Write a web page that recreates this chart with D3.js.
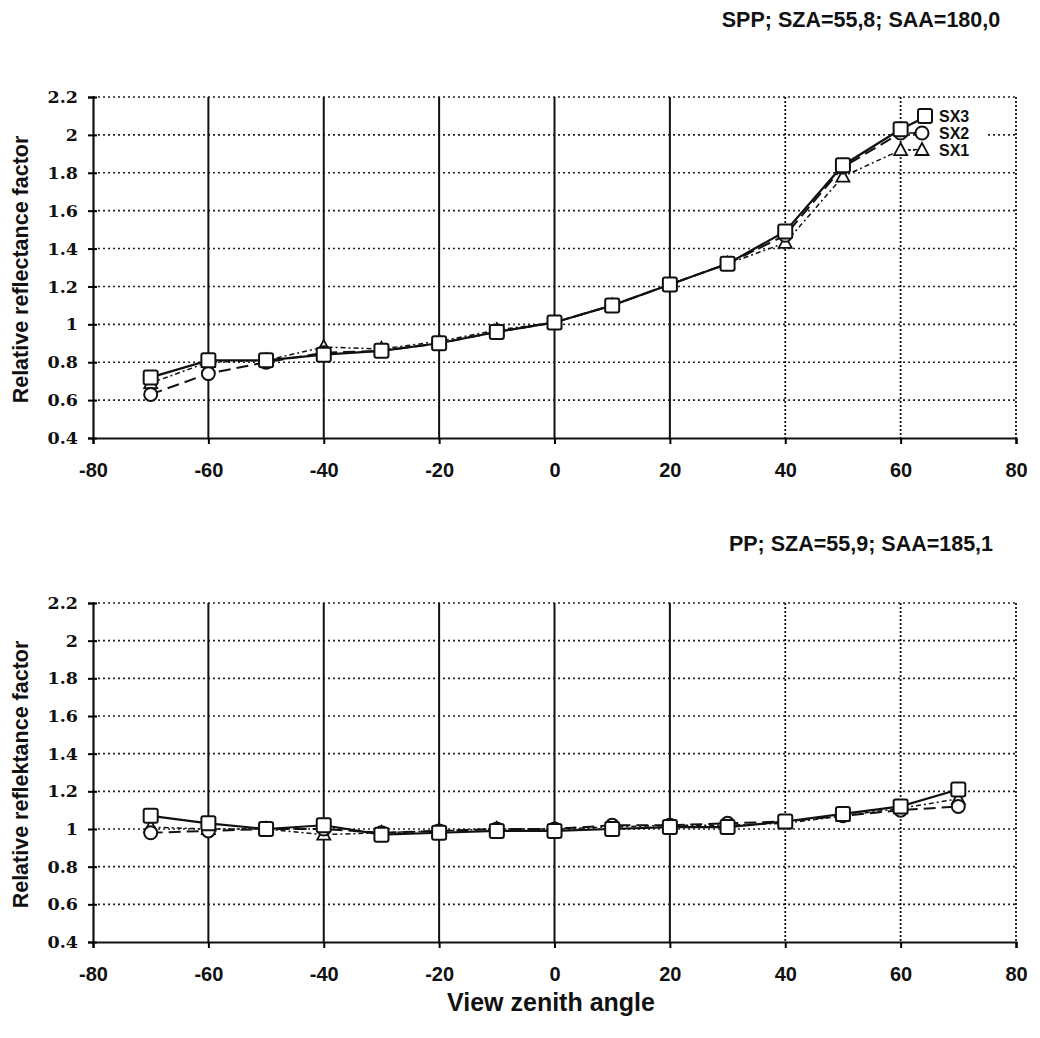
<!DOCTYPE html>
<html>
<head>
<meta charset="utf-8">
<script src="https://cdn.jsdelivr.net/npm/d3@7"></script>
<style>
  body { margin: 0; background: #fff; }
  text { font-family: "Liberation Sans", Arial, sans-serif; font-weight: bold; fill: #111; }
  .ytick text { font-family: "DejaVu Serif", serif !important; font-size: 17.5px; }
</style>
</head>
<body>
<div id="chart"></div>
<script>
// view zenith angles
let angles = [-70, -60, -50, -40, -30, -20, -10, 0, 10, 20, 30, 40, 50, 60, 70];

// SPP panel (point at 70 sits under the legend)
let sppSX3 = [0.72, 0.81, 0.81, 0.84, 0.86, 0.90, 0.96, 1.01, 1.10, 1.21, 1.32, 1.49, 1.84, 2.03, 2.18];
let sppSX2 = [0.63, 0.74, 0.80, 0.85, 0.86, 0.90, 0.96, 1.01, 1.10, 1.21, 1.32, 1.47, 1.83, 2.01, 2.01];
let sppSX1 = [0.69, 0.80, 0.81, 0.88, 0.87, 0.91, 0.97, 1.01, 1.10, 1.21, 1.32, 1.43, 1.78, 1.92, 1.93];

// PP panel
let ppSX3 = [1.07, 1.03, 1.00, 1.02, 0.97, 0.98, 0.99, 0.99, 1.00, 1.01, 1.01, 1.04, 1.08, 1.12, 1.21];
let ppSX2 = [0.98, 0.99, 1.00, 1.00, 0.98, 0.99, 1.00, 1.00, 1.02, 1.02, 1.03, 1.04, 1.07, 1.10, 1.12];
let ppSX1 = [1.01, 1.00, 1.00, 0.97, 0.98, 0.99, 1.00, 1.00, 1.01, 1.02, 1.02, 1.03, 1.07, 1.11, 1.16];

let xTicks = [-80, -60, -40, -20, 0, 20, 40, 60, 80];
let yTicks = [0.4, 0.6, 0.8, 1, 1.2, 1.4, 1.6, 1.8, 2, 2.2];
let seriesNames = ["SX3", "SX2", "SX1"];

let svgWidth = 1040;
let svgHeight = 1038;

let svg = d3.select("#chart")
    .append("svg")
    .attr("width", svgWidth)
    .attr("height", svgHeight);

// line style and marker per series
let styles = {
    SX3: { dash: null, width: 2.2, marker: "square" },
    SX2: { dash: "12,6", width: 2, marker: "circle" },
    SX1: { dash: "5,3,2,3", width: 1.5, marker: "triangle" }
};

function drawMarker(g, type, x, y) {
    if (type === "square") {
        g.append("rect")
            .attr("x", x - 7).attr("y", y - 7)
            .attr("width", 14).attr("height", 14)
            .attr("rx", 2)
            .attr("fill", "#fff").attr("stroke", "#111").attr("stroke-width", 2);
    } else if (type === "circle") {
        g.append("circle")
            .attr("cx", x).attr("cy", y).attr("r", 6.5)
            .attr("fill", "#fff").attr("stroke", "#111").attr("stroke-width", 2);
    } else {
        g.append("path")
            .attr("d", `M${x},${y - 7}L${x + 6.5},${y + 5}L${x - 6.5},${y + 5}Z`)
            .attr("fill", "#fff").attr("stroke", "#111").attr("stroke-width", 1.8);
    }
}

function drawPanel(opts) {
    let left = 93, right = 1016;
    let x = d3.scaleLinear().domain([-80, 80]).range([left, right]);
    let y = d3.scaleLinear().domain([0.4, 2.2]).range([opts.bottom, opts.top]);

    let g = svg.append("g");

    // horizontal dotted grid
    g.selectAll(".hgrid")
        .data(yTicks.slice(1))
        .enter()
        .append("line")
        .attr("x1", left).attr("x2", right)
        .attr("y1", d => y(d)).attr("y2", d => y(d))
        .attr("stroke", "#222")
        .attr("stroke-width", 1.6)
        .attr("stroke-dasharray", "2,3");

    // vertical grid: solid on the left, faded/dotted on the right as in the scan
    g.selectAll(".vgrid")
        .data(xTicks.slice(1))
        .enter()
        .append("line")
        .attr("x1", d => x(d)).attr("x2", d => x(d))
        .attr("y1", opts.top).attr("y2", opts.bottom)
        .attr("stroke", "#111")
        .attr("stroke-width", d => d <= 20 ? 2 : 1.8)
        .attr("stroke-dasharray", d => d <= 20 ? null : "2,2");

    // axes
    let leftAxis = d3.axisLeft(y).tickValues(yTicks).tickSize(5).tickFormat(d => String(d));
    let bottomAxis = d3.axisBottom(x).tickValues(xTicks).tickSize(6).tickFormat(d => String(d));

    let yAxis = g.append("g")
        .attr("class", "ytick")
        .attr("transform", `translate(${left},0)`)
        .call(leftAxis)
        .attr("font-family", null)
        .attr("font-size", null);
    yAxis.select(".domain").attr("stroke-width", 2.2).attr("stroke", "#111");
    yAxis.selectAll(".tick line").attr("stroke-width", 2).attr("x2", -5).attr("x1", 4);
    yAxis.selectAll("text")
        .attr("x", -15);

    let xAxis = g.append("g")
        .attr("transform", `translate(0,${opts.bottom})`)
        .call(bottomAxis)
        .attr("font-family", null)
        .attr("font-size", null);
    xAxis.select(".domain").attr("stroke-width", 2.2).attr("stroke", "#111");
    xAxis.selectAll(".tick line").attr("stroke-width", 2);
    xAxis.selectAll("text")
        .attr("y", 39)
        .attr("dy", 0)
        .style("font-size", "20px");

    // series lines
    let lineGen = d3.line()
        .x((d, i) => x(angles[i]))
        .y(d => y(d));

    let order = ["SX1", "SX2", "SX3"];
    order.forEach(name => {
        let vals = opts.series[name];
        let st = styles[name];
        g.append("path")
            .datum(vals)
            .attr("d", lineGen)
            .attr("fill", "none")
            .attr("stroke", "#111")
            .attr("stroke-width", st.width)
            .attr("stroke-dasharray", st.dash);
    });
    order.forEach(name => {
        let vals = opts.series[name];
        vals.forEach((v, i) => {
            if (opts.hideLast && i === vals.length - 1) return;
            drawMarker(g, styles[name].marker, x(angles[i]), y(v));
        });
    });

    // legend (top panel only)
    if (opts.legend) {
        let lg = g.append("g");
        lg.append("rect")
            .attr("x", 917).attr("y", 99)
            .attr("width", 70).attr("height", 62)
            .attr("fill", "#fff");
        seriesNames.forEach((name, i) => {
            let ly = 116 + i * 17;
            let lx = name === "SX3" ? 925 : 922;
            lg.append("line")
                .attr("x1", 909).attr("x2", lx)
                .attr("y1", ly).attr("y2", ly)
                .attr("stroke", "#111")
                .attr("stroke-width", 1.5)
                .attr("stroke-dasharray", name === "SX3" ? null : (name === "SX2" ? "6,2" : "2,2"))
                .attr("opacity", name === "SX3" ? 0 : 1);
            drawMarker(lg, styles[name].marker, lx, ly);
            lg.append("text")
                .attr("x", 939)
                .attr("y", ly + 6)
                .style("font-size", "16px")
                .text(name);
        });
    }

    // panel title
    svg.append("text")
        .attr("x", 861)
        .attr("y", opts.titleY)
        .attr("text-anchor", "middle")
        .style("font-size", "21.5px")
        .text(opts.title);

    // y axis label
    svg.append("text")
        .attr("transform", `translate(28,${(opts.top + opts.bottom) / 2 + 2}) rotate(-90)`)
        .attr("text-anchor", "middle")
        .style("font-size", "21.5px")
        .text(opts.ylabel);
}

drawPanel({
    top: 97, bottom: 438,
    title: "SPP; SZA=55,8; SAA=180,0", titleY: 27,
    ylabel: "Relative reflectance factor",
    series: { SX3: sppSX3, SX2: sppSX2, SX1: sppSX1 },
    hideLast: true,
    legend: true
});

drawPanel({
    top: 603, bottom: 942,
    title: "PP; SZA=55,9; SAA=185,1", titleY: 551,
    ylabel: "Relative reflektance factor",
    series: { SX3: ppSX3, SX2: ppSX2, SX1: ppSX1 },
    hideLast: false,
    legend: false
});

// x axis title
svg.append("text")
    .attr("x", 551)
    .attr("y", 1011)
    .attr("text-anchor", "middle")
    .style("font-size", "25px")
    .text("View zenith angle");
</script>
</body>
</html>
